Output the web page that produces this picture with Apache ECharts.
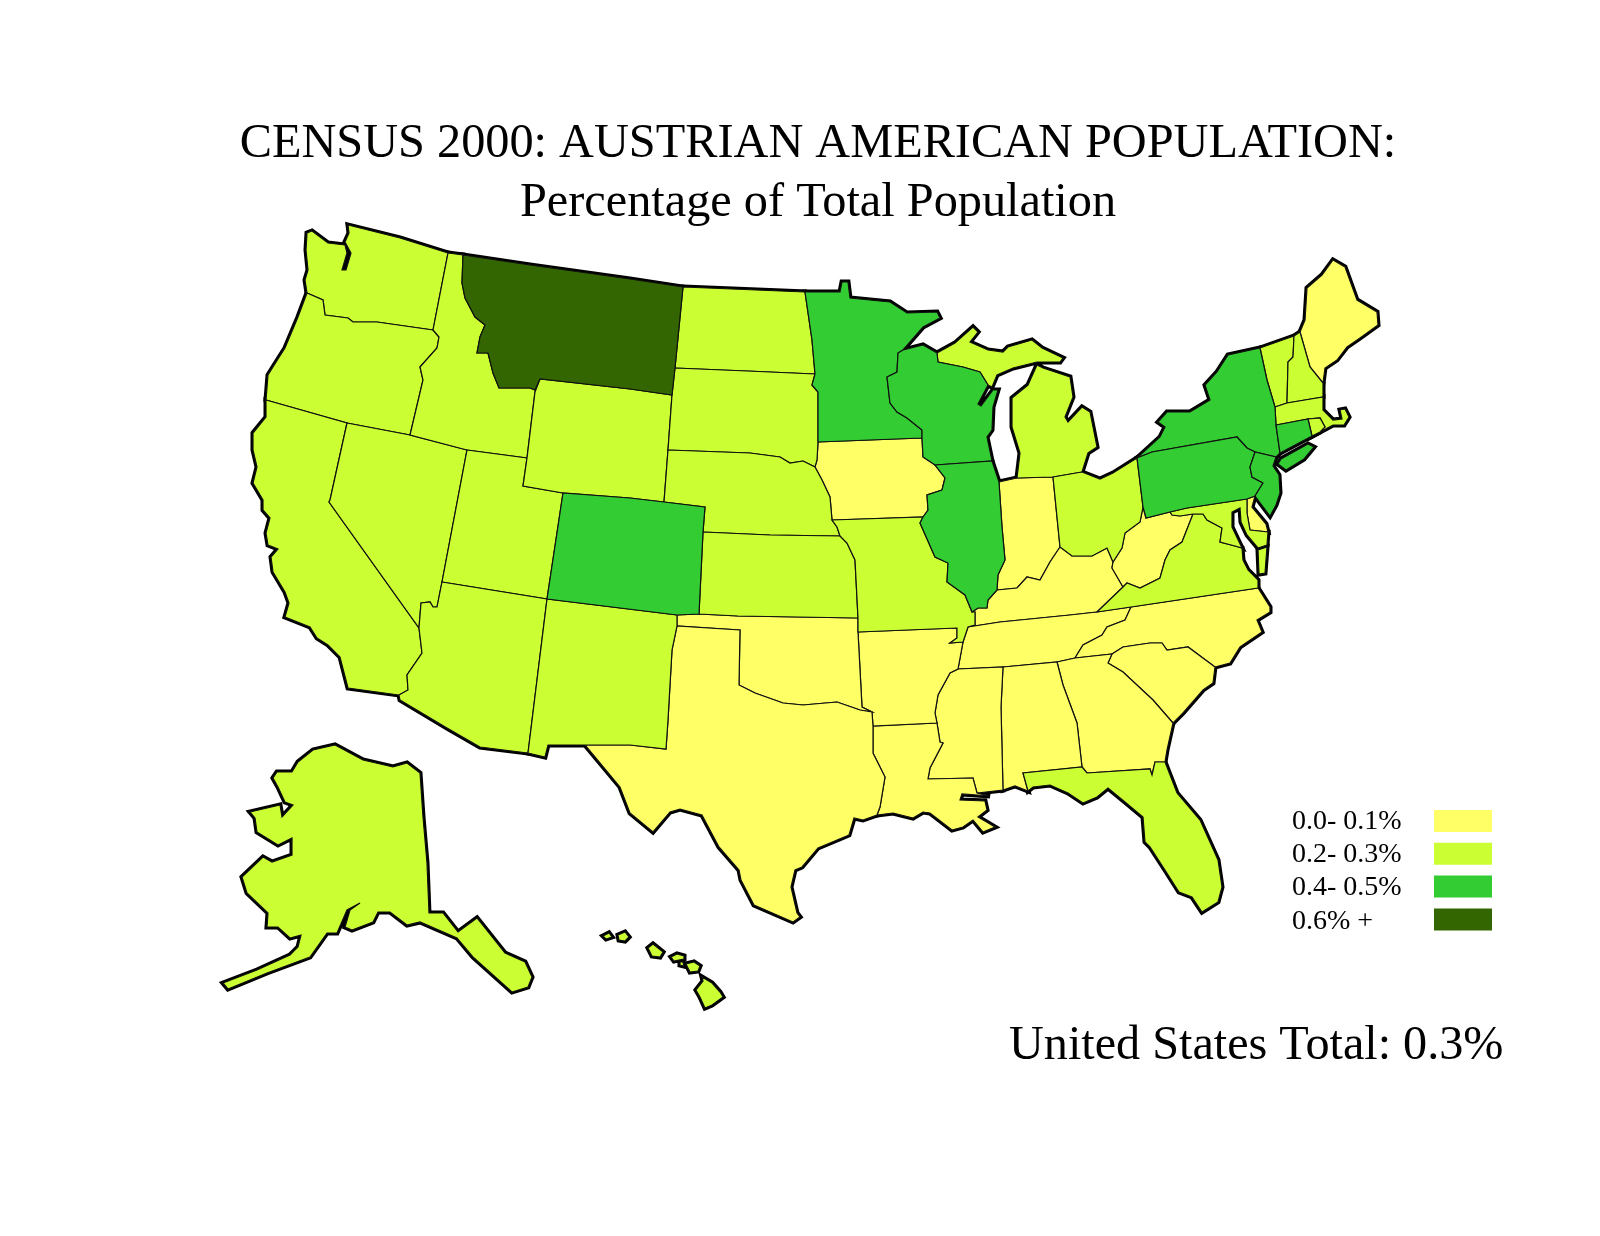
<!DOCTYPE html>
<html>
<head>
<meta charset="utf-8">
<title>Census 2000 Austrian American population</title>
<script src="https://cdn.jsdelivr.net/npm/echarts@6/dist/echarts.min.js"></script>
<style>
html, body { margin: 0; padding: 0; background: #fff; }
#main { width: 1600px; height: 1236px; }
</style>
</head>
<body>
<div id="main"></div>
<script>
// percentage classes
var classLabels = ['0.0- 0.1%', '0.2- 0.3%', '0.4- 0.5%', '0.6% +'];
var classColors = ['#FFFF66', '#CCFF33', '#33CC33', '#336600'];
var statesLow = ['ME', 'IA', 'IN', 'KY', 'WV', 'TN', 'NC', 'SC', 'GA', 'AL', 'MS', 'LA', 'AR', 'OK', 'TX', 'DE'];
var statesMid = ['WA', 'OR', 'CA', 'NV', 'ID', 'UT', 'AZ', 'WY', 'NM', 'ND', 'SD', 'NE', 'KS', 'MO', 'MI', 'OH', 'VA', 'MD', 'VT', 'NH', 'MA', 'RI', 'FL', 'AK', 'HI'];
var statesHigh = ['MN', 'WI', 'IL', 'CO', 'NY', 'PA', 'NJ', 'CT'];
var statesTop = ['MT'];
var titleLines = ['CENSUS 2000: AUSTRIAN AMERICAN POPULATION:', 'Percentage of Total Population'];
var totalLabel = 'United States Total: 0.3%';

// base map traced by hand, shared borders are kept once so states meet exactly
var arcs = {
	wa_coast: [[307,293],[305,280],[308,270],[306,250],[307,233],[312,231],[328,243],[345,245],[347,253],[342,270],[346,270],[351,253],[345,242],[349,233],[348,225],[400,238],[448,253]],
	wa_or: [[307,293],[323,300],[325,315],[348,318],[353,322],[377,322],[433,330]],
	wa_id: [[448,253],[433,330]],
	or_coast: [[307,293],[298,317],[285,348],[273,367],[268,375],[266,400]],
	or_ca: [[266,400],[347,423]],
	or_nv: [[347,423],[410,435]],
	or_id: [[433,330],[439,337],[437,348],[420,367],[423,380],[410,435]],
	id_north: [[448,253],[463,255]],
	id_mt: [[463,255],[462,283],[465,298],[475,317],[485,325],[480,337],[477,353],[488,353],[493,373],[499,388],[530,388],[535,390],[540,379]],
	id_wy: [[540,379],[535,392],[527,458]],
	id_ut: [[467,450],[527,458]],
	id_nv: [[410,435],[467,450]],
	ca_coast: [[266,400],[266,417],[253,433],[253,450],[257,467],[253,483],[263,500],[263,510],[270,518],[266,533],[268,545],[278,549],[271,557],[273,572],[285,592],[289,603],[285,617],[310,627],[317,638],[328,645],[340,657],[348,688],[399,695]],
	ca_nv: [[347,423],[330,500],[329,502],[419,628]],
	ca_az: [[419,628],[422,653],[407,675],[408,690],[399,695]],
	nv_ut: [[467,450],[442,582]],
	nv_az: [[442,582],[437,607],[433,607],[430,602],[421,603],[419,628]],
	ut_wy: [[527,458],[523,486],[563,493]],
	ut_co: [[563,493],[547,599]],
	ut_az: [[442,582],[547,599]],
	az_mex: [[399,695],[400,700],[447,728],[480,747],[528,753]],
	az_nm: [[547,599],[528,753]],
	nm_mex: [[528,753],[545,757],[548,745],[585,745]],
	nm_tx: [[585,745],[630,745],[666,749],[668,720],[672,650],[677,626]],
	nm_ok: [[677,626],[677,615]],
	nm_co: [[547,599],[677,615]],
	co_ok: [[677,615],[699,614]],
	co_ks: [[703,532],[699,614]],
	co_ne: [[664,502],[705,507],[703,532]],
	co_wy: [[563,493],[630,498],[664,502]],
	mt_wy: [[540,379],[630,389],[672,395]],
	wy_sd: [[672,395],[668,450]],
	wy_ne: [[668,450],[664,502]],
	mt_north: [[463,255],[530,265],[630,279],[683,287]],
	mt_nd: [[683,287],[675,368]],
	mt_sd: [[675,368],[672,395]],
	nd_north: [[683,287],[805,292]],
	nd_mn: [[805,292],[812,340],[815,374]],
	nd_sd: [[675,368],[747,371],[815,374]],
	sd_mn: [[815,374],[812,385],[818,392],[818,442]],
	sd_ia: [[818,442],[817,460],[815,467]],
	sd_ne: [[668,450],[750,453],[780,457],[790,463],[803,461],[815,467]],
	ne_ia: [[815,467],[822,480],[830,497],[832,520]],
	ne_mo: [[832,520],[837,527],[840,536]],
	ne_ks: [[703,532],[770,535],[840,536]],
	ks_mo: [[840,536],[847,543],[855,560],[858,618]],
	ks_ok: [[699,614],[738,616],[858,618]],
	ok_mo: [[858,618],[858,632]],
	ok_ar: [[858,632],[862,707],[872,712]],
	ok_tx: [[677,626],[740,630],[739,685],[755,693],[783,703],[803,705],[837,702],[860,710],[872,712]],
	tx_ar: [[872,712],[873,726]],
	tx_la: [[873,726],[873,753],[885,777],[880,807],[877,815]],
	tx_coast: [[877,815],[863,820],[854,818],[849,835],[818,848],[802,867],[795,870],[791,887],[797,913],[800,917],[793,922],[754,905],[741,880],[739,870],[719,847],[702,815],[680,809],[670,812],[653,832],[630,813],[620,787],[585,745]],
	ar_la: [[873,726],[937,723]],
	ar_mo: [[858,632],[957,628],[957,638],[950,643],[963,642]],
	ar_tn: [[963,642],[958,669]],
	ar_ms: [[958,669],[950,673],[938,695],[935,713],[937,723]],
	la_ms: [[937,723],[940,742],[943,743],[930,768],[928,779],[973,778],[977,793]],
	la_coast: [[977,793],[990,796],[962,794],[960,800],[985,801],[987,810],[978,817],[995,827],[983,832],[973,820],[963,827],[952,830],[930,813],[923,812],[913,818],[893,813],[877,815]],
	ms_tn: [[958,669],[1003,667]],
	ms_al: [[1003,667],[1001,707],[1003,790]],
	ms_coast: [[977,793],[1003,790]],
	al_tn: [[1003,667],[1057,662]],
	al_ga: [[1057,662],[1063,685],[1077,723],[1082,767]],
	al_fl: [[1082,767],[1023,773],[1028,791]],
	al_coast: [[1003,790],[1015,786],[1028,791]],
	ga_tn: [[1057,662],[1075,658]],
	ga_nc: [[1075,658],[1112,654]],
	ga_sc: [[1112,654],[1108,663],[1123,672],[1153,700],[1173,723]],
	ga_coast: [[1173,723],[1167,750],[1165,762]],
	ga_fl: [[1165,762],[1155,762],[1152,775],[1150,769],[1087,773],[1082,767]],
	fl_coast: [[1028,791],[1033,787],[1050,785],[1068,793],[1083,803],[1097,797],[1108,788],[1125,802],[1143,817],[1145,842],[1150,847],[1165,870],[1179,892],[1192,897],[1202,912],[1218,902],[1222,887],[1218,860],[1200,820],[1177,793],[1165,762]],
	sc_nc: [[1112,654],[1123,647],[1150,643],[1162,643],[1167,650],[1188,647],[1215,667]],
	sc_coast: [[1215,667],[1213,683],[1203,690],[1183,713],[1173,723]],
	nc_tn: [[1075,658],[1083,645],[1102,635],[1107,627],[1125,620],[1131,607]],
	nc_va: [[1131,607],[1258,588]],
	nc_coast: [[1258,588],[1270,607],[1270,612],[1257,620],[1262,632],[1240,647],[1230,663],[1215,667]],
	tn_va: [[1097,612],[1131,607]],
	tn_ky: [[968,627],[1000,622],[1070,615],[1097,612]],
	tn_mo: [[963,642],[968,627]],
	ky_mo: [[968,627],[975,625],[975,612],[972,612]],
	ky_il: [[972,612],[978,608],[987,608],[988,600],[997,590]],
	ky_in: [[997,590],[1017,588],[1027,577],[1040,580],[1050,562],[1060,547]],
	ky_oh: [[1060,547],[1072,556],[1092,556],[1107,548],[1113,562]],
	ky_wv: [[1113,562],[1112,568],[1123,587]],
	ky_va: [[1123,587],[1097,612]],
	mo_ia: [[832,520],[923,517]],
	mo_il: [[923,517],[920,523],[935,557],[948,563],[947,582],[965,595],[972,612]],
	mn_ia: [[818,442],[922,438]],
	ia_wi: [[922,438],[923,457],[935,465]],
	ia_il: [[935,465],[945,478],[942,490],[927,495],[928,510],[923,517]],
	il_wi: [[935,465],[992,461]],
	il_lake: [[992,461],[999,482]],
	il_in: [[999,482],[1002,527],[1005,560],[998,575],[997,590]],
	in_lake: [[999,482],[1017,478]],
	in_mi: [[1017,478],[1053,477]],
	in_oh: [[1053,477],[1060,547]],
	mn_wi: [[903,350],[898,353],[897,372],[887,377],[890,403],[897,412],[907,418],[922,430],[922,438]],
	wi_lake: [[903,350],[923,345],[937,353]],
	wi_up: [[937,353],[938,362],[963,367],[980,372],[988,385]],
	wi_coast: [[988,385],[978,404],[981,406],[993,390],[998,390],[993,407],[992,430],[987,437],[992,461]],
	mn_north: [[805,292],[840,292],[842,282],[848,282],[850,298],[890,302],[907,313],[937,312],[940,318],[923,327],[903,350]],
	up_coast: [[988,385],[992,387],[997,375],[1013,368],[1037,362],[1060,362],[1063,358],[1042,348],[1032,340],[1008,347],[1003,352],[988,350],[970,342],[978,332],[973,327],[955,343],[937,353]],
	mi_oh: [[1053,477],[1082,472]],
	mi_coast: [[1082,472],[1088,453],[1097,447],[1090,412],[1082,407],[1068,422],[1065,417],[1073,397],[1070,377],[1043,368],[1037,365],[1028,385],[1012,398],[1012,427],[1020,453],[1017,478]],
	oh_lake: [[1082,472],[1100,479],[1113,473],[1137,458]],
	oh_pa: [[1137,458],[1143,507]],
	oh_wv: [[1143,507],[1140,522],[1125,533],[1122,548],[1113,562]],
	pa_wv: [[1143,507],[1146,518],[1170,512]],
	wv_md: [[1170,512],[1172,515],[1180,516],[1193,514]],
	wv_va: [[1193,514],[1182,542],[1170,550],[1165,560],[1160,578],[1140,588],[1127,583],[1123,587]],
	pa_md: [[1170,512],[1187,508],[1247,499]],
	pa_de: [[1247,499],[1255,496]],
	pa_nj: [[1255,496],[1263,483],[1252,477],[1250,467],[1255,452]],
	pa_ny: [[1137,458],[1152,452],[1237,437],[1247,448],[1255,452]],
	ny_nj: [[1255,452],[1276,457]],
	nj_coast: [[1276,457],[1273,466],[1279,475],[1280,493],[1276,505],[1270,516],[1258,500],[1255,496]],
	ny_sound: [[1276,457],[1280,453]],
	ny_ct: [[1276,425],[1280,453]],
	ny_ma: [[1275,407],[1276,425]],
	ny_vt: [[1260,348],[1267,380],[1275,407]],
	ny_lake: [[1137,458],[1160,437],[1165,427],[1158,422],[1167,412],[1190,412],[1210,400],[1205,385],[1217,372],[1228,355],[1260,348]],
	ct_ma: [[1276,425],[1308,419]],
	ct_ri: [[1308,419],[1312,436]],
	ct_coast: [[1280,453],[1312,436]],
	ri_ma: [[1308,419],[1320,418],[1325,427],[1320,432]],
	ri_coast: [[1312,436],[1320,432]],
	ma_vt: [[1275,407],[1287,403]],
	ma_nh: [[1287,403],[1323,397]],
	ma_coast: [[1323,397],[1323,410],[1333,420],[1342,419],[1340,410],[1345,409],[1349,417],[1344,425],[1333,425],[1320,432]],
	vt_nh: [[1294,336],[1293,357],[1288,362],[1287,403]],
	vt_north: [[1260,348],[1294,336]],
	nh_north: [[1294,336],[1300,332]],
	nh_me: [[1300,332],[1310,367],[1323,383]],
	nh_coast: [[1323,383],[1323,397]],
	me_coast: [[1300,332],[1305,320],[1307,288],[1322,275],[1333,260],[1345,267],[1357,300],[1377,312],[1378,325],[1360,338],[1347,347],[1337,360],[1325,368],[1323,383]],
	de_md: [[1247,499],[1247,513],[1250,530],[1268,532]],
	de_coast: [[1255,496],[1252,507],[1266,524],[1268,532]],
	md_va: [[1193,514],[1203,514],[1207,520],[1222,528],[1220,542],[1235,546],[1242,548]],
	md_shore: [[1242,548],[1232,527],[1232,512],[1240,508],[1241,522],[1247,535],[1258,548],[1267,545],[1268,532]],
	va_coast: [[1258,588],[1258,580],[1248,570],[1243,560],[1242,548]]
};

// each state is a list of rings, a ring is a list of arc names ("-" = walk it backwards)
var stateRings = {
	WA: [['wa_coast', 'wa_id', '-wa_or']],
	OR: [['or_coast', 'or_ca', 'or_nv', '-or_id', '-wa_or']],
	ID: [['id_north', 'id_mt', 'id_wy', '-id_ut', '-id_nv', '-or_id', '-wa_id']],
	CA: [['ca_coast', '-ca_az', '-ca_nv', '-or_ca']],
	NV: [['or_nv', 'id_nv', 'nv_ut', 'nv_az', '-ca_nv']],
	UT: [['id_ut', 'ut_wy', 'ut_co', '-ut_az', '-nv_ut']],
	AZ: [['ut_az', 'az_nm', '-az_mex', '-ca_az', '-nv_az']],
	NM: [['az_nm', 'nm_mex', 'nm_tx', 'nm_ok', '-nm_co']],
	CO: [['ut_co', 'nm_co', 'co_ok', '-co_ks', '-co_ne', '-co_wy']],
	WY: [['-id_wy', 'mt_wy', 'wy_sd', 'wy_ne', '-co_wy', '-ut_wy']],
	MT: [['mt_north', 'mt_nd', 'mt_sd', '-mt_wy', '-id_mt']],
	ND: [['nd_north', 'nd_mn', '-nd_sd', '-mt_nd']],
	SD: [['nd_sd', 'sd_mn', 'sd_ia', '-sd_ne', '-wy_sd', '-mt_sd']],
	NE: [['sd_ne', 'ne_ia', 'ne_mo', '-ne_ks', '-co_ne', '-wy_ne']],
	KS: [['ne_ks', 'ks_mo', '-ks_ok', '-co_ks']],
	OK: [['co_ok', 'ks_ok', 'ok_mo', 'ok_ar', '-ok_tx', 'nm_ok']],
	TX: [['-ok_tx', '-nm_tx', '-tx_coast', '-tx_la', '-tx_ar']],
	AR: [['ok_ar', 'tx_ar', 'ar_la', '-ar_ms', '-ar_tn', '-ar_mo']],
	LA: [['tx_la', '-la_coast', '-la_ms', '-ar_la']],
	MS: [['ar_ms', 'la_ms', 'ms_coast', '-ms_al', '-ms_tn']],
	AL: [['al_tn', 'al_ga', 'al_fl', '-al_coast', '-ms_al']],
	GA: [['ga_tn', 'ga_nc', 'ga_sc', 'ga_coast', 'ga_fl', '-al_ga']],
	FL: [['fl_coast', 'ga_fl', 'al_fl']],
	SC: [['sc_nc', 'sc_coast', '-ga_sc']],
	NC: [['ga_nc', 'sc_nc', '-nc_coast', '-nc_va', '-nc_tn']],
	TN: [['tn_mo', 'tn_ky', 'tn_va', '-nc_tn', '-ga_tn', '-al_tn', '-ms_tn', 'ar_tn']],
	KY: [['ky_mo', 'ky_il', 'ky_in', 'ky_oh', 'ky_wv', 'ky_va', '-tn_ky']],
	MO: [['mo_ia', 'mo_il', '-ky_mo', '-tn_mo', '-ar_mo', '-ok_mo', '-ks_mo', '-ne_mo']],
	IA: [['mn_ia', 'ia_wi', 'ia_il', '-mo_ia', '-ne_ia', '-sd_ia']],
	IL: [['il_wi', 'il_lake', 'il_in', '-ky_il', '-mo_il', '-ia_il']],
	IN: [['in_lake', 'in_mi', 'in_oh', '-ky_in', '-il_in']],
	WI: [['-mn_wi', 'wi_lake', 'wi_up', 'wi_coast', '-il_wi', '-ia_wi']],
	MN: [['mn_north', 'mn_wi', '-mn_ia', '-sd_mn', '-nd_mn']],
	MI: [['wi_up', 'up_coast'], ['in_mi', 'mi_oh', 'mi_coast']],
	OH: [['mi_oh', 'oh_lake', 'oh_pa', 'oh_wv', '-ky_oh', '-in_oh']],
	WV: [['-oh_wv', 'pa_wv', 'wv_md', 'wv_va', '-ky_wv']],
	PA: [['oh_pa', 'pa_wv', 'pa_md', 'pa_de', 'pa_nj', '-pa_ny']],
	NJ: [['pa_nj', 'ny_nj', 'nj_coast']],
	NY: [['ny_lake', 'ny_vt', 'ny_ma', 'ny_ct', '-ny_sound', '-ny_nj', '-pa_ny']],
	CT: [['ct_ma', 'ct_ri', '-ct_coast', '-ny_ct']],
	RI: [['ri_ma', '-ri_coast', '-ct_ri']],
	MA: [['ma_vt', 'ma_nh', 'ma_coast', '-ri_ma', '-ct_ma', '-ny_ma']],
	VT: [['vt_north', 'vt_nh', '-ma_vt', '-ny_vt']],
	NH: [['nh_north', 'nh_me', 'nh_coast', '-ma_nh', '-vt_nh']],
	ME: [['me_coast', '-nh_me']],
	DE: [['pa_de', 'de_coast', '-de_md']],
	MD: [['pa_md', 'de_md', '-md_shore', '-md_va', '-wv_md']],
	VA: [['ky_va', 'tn_va', 'nc_va', 'va_coast', '-md_va', 'wv_va']]
};

// pieces that share no border with anything
var extraPolys = {
	NY: [[[1281,459],[1308,444],[1314,447],[1304,459],[1286,470],[1278,464]]],
	VA: [[[1258,550],[1267,547],[1265,573],[1259,574]]],
	AK: [[[273,778],[277,772],[292,772],[298,762],[313,750],[335,745],[363,760],[393,767],[407,763],[420,773],[423,817],[427,863],[429,913],[443,913],[458,932],[477,918],[505,953],[525,962],[532,977],[528,987],[512,992],[473,957],[457,938],[420,922],[407,925],[390,912],[378,912],[373,922],[352,930],[345,927],[350,910],[360,903],[347,910],[337,933],[327,933],[310,957],[267,973],[228,989],[223,983],[257,970],[290,955],[298,947],[301,935],[290,938],[278,927],[267,927],[268,913],[247,893],[242,877],[263,857],[272,862],[292,855],[292,838],[278,845],[257,832],[255,818],[250,812],[280,805],[282,817],[293,805],[285,802],[278,787]]],
	HI: [
		[[618,935],[625,932],[629,937],[625,941],[619,940]],
		[[603,936],[609,933],[612,937],[606,939]],
		[[648,948],[653,944],[658,948],[663,952],[660,957],[652,956]],
		[[671,957],[677,954],[684,956],[684,959],[674,961]],
		[[680,962],[683,962],[684,966],[680,965]],
		[[686,964],[694,962],[700,966],[698,971],[690,972]],
		[[696,990],[703,981],[702,977],[712,983],[720,992],[723,997],[712,1005],[705,1008],[700,997]]
	]
};

function buildRing(names) {
	var ring = [];
	names.forEach(function(n) {
		var back = n.charAt(0) == '-';
		var pts = arcs[back ? n.slice(1) : n].slice();
		if(back) pts.reverse();
		ring = ring.concat(ring.length ? pts.slice(1) : pts);
	});
	return ring;
}

var allStates = statesLow.concat(statesMid, statesHigh, statesTop);
var minX = 9999, minY = 9999, maxX = 0, maxY = 0;
var features = allStates.map(function(name) {
	var polys = (stateRings[name] || []).map(function(r) { return [buildRing(r)]; });
	(extraPolys[name] || []).forEach(function(p) { polys.push([p]); });
	polys.forEach(function(poly) {
		poly[0].forEach(function(pt) {
			minX = Math.min(minX, pt[0]); maxX = Math.max(maxX, pt[0]);
			minY = Math.min(minY, pt[1]); maxY = Math.max(maxY, pt[1]);
		});
	});
	return {
		type: 'Feature',
		properties: { name: name },
		geometry: { type: 'MultiPolygon', coordinates: polys }
	};
});
echarts.registerMap('usa', { type: 'FeatureCollection', features: features });

var flat = {
	project: function(p) { return p; },
	unproject: function(p) { return p; }
};

var mapData = [];
[statesLow, statesMid, statesHigh, statesTop].forEach(function(list, k) {
	list.forEach(function(name) {
		mapData.push({ name: name, value: k, itemStyle: { areaColor: classColors[k] } });
	});
});

// legend rows
var legendGraphic = [];
classLabels.forEach(function(label, k) {
	legendGraphic.push({
		type: 'rect',
		silent: true,
		shape: { x: 1434, y: 810 + k * 32.8, width: 58, height: 22 },
		style: { fill: classColors[k] }
	});
	legendGraphic.push({
		type: 'text',
		silent: true,
		style: {
			x: 1292, y: 821.5 + k * 33.3,
			text: label,
			fill: '#000',
			font: '28px "Liberation Serif"',
			verticalAlign: 'middle'
		}
	});
});

var myChart = echarts.init(document.getElementById('main'), null, { renderer: 'canvas' });
var box = { left: minX, top: minY, width: maxX - minX, height: maxY - minY };
myChart.setOption({
	animation: false,
	backgroundColor: '#fff',
	title: [
		{ text: titleLines[0], left: 813, top: 115, textAlign: 'center', textStyle: { fontFamily: 'Liberation Serif', fontWeight: 'normal', fontSize: 48.3, color: '#000' } },
		{ text: titleLines[1], left: 813, top: 174, textAlign: 'center', textStyle: { fontFamily: 'Liberation Serif', fontWeight: 'normal', fontSize: 48.3, color: '#000' } },
		{ text: totalLabel, left: 1004, top: 1017, textStyle: { fontFamily: 'Liberation Serif', fontWeight: 'normal', fontSize: 48.2, color: '#000' } }
	],
	// thick under layer: only its outer half stays visible, that gives the heavy coast line
	geo: {
		map: 'usa',
		projection: flat,
		aspectScale: 1,
		left: box.left, top: box.top, width: box.width, height: box.height,
		silent: true,
		z: 1,
		label: { show: false },
		itemStyle: { areaColor: '#000', borderColor: '#000', borderWidth: 5 },
		emphasis: { disabled: true }
	},
	series: [{
		type: 'map',
		map: 'usa',
		projection: flat,
		aspectScale: 1,
		left: box.left, top: box.top, width: box.width, height: box.height,
		silent: true,
		z: 2,
		label: { show: false },
		itemStyle: { borderColor: '#111', borderWidth: 1.2 },
		emphasis: { disabled: true },
		select: { disabled: true },
		data: mapData
	}],
	graphic: legendGraphic
});
</script>
</body>
</html>
